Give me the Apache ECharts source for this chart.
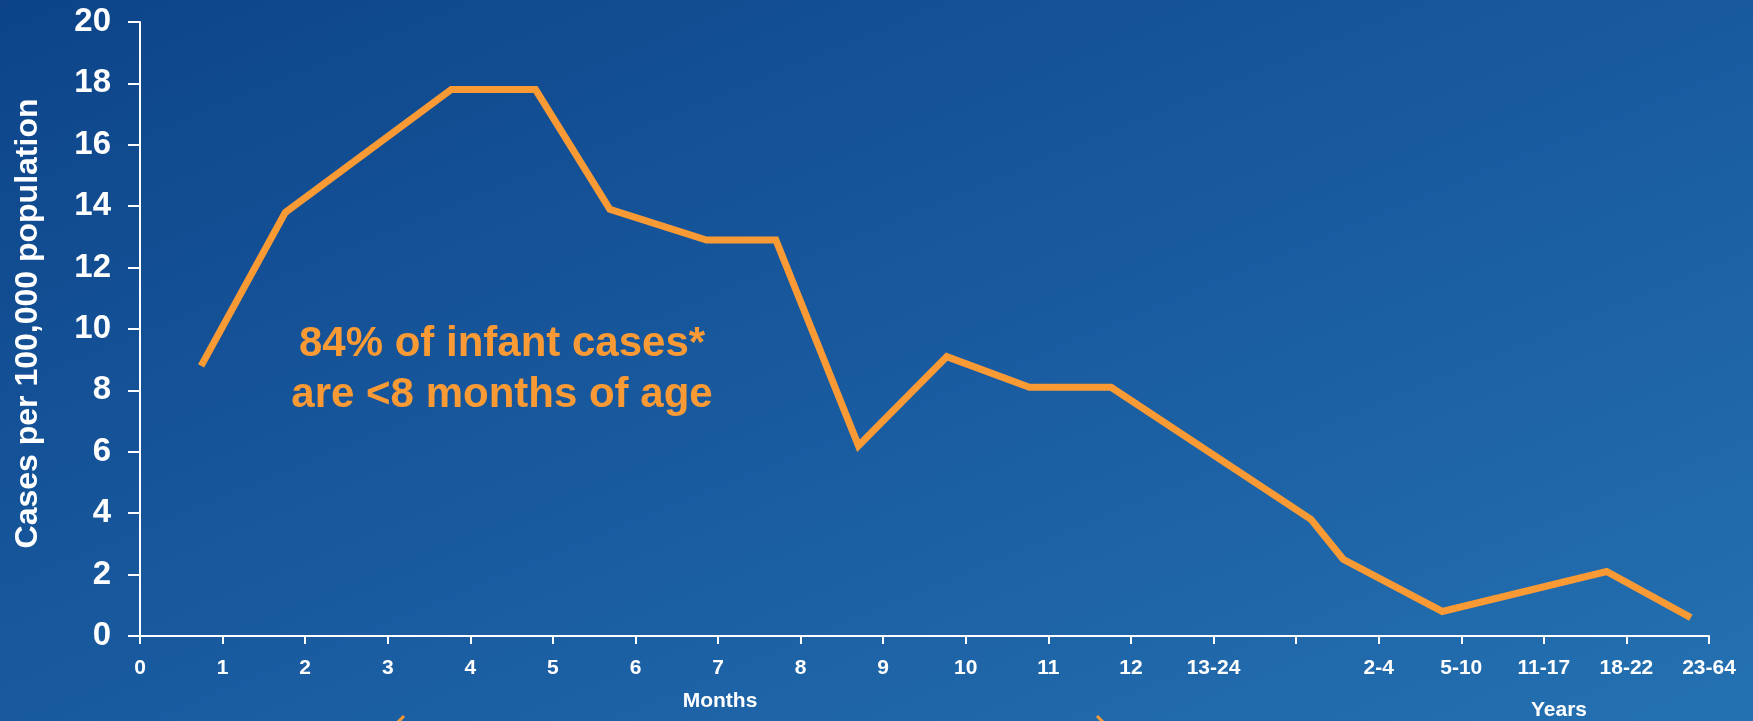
<!DOCTYPE html>
<html>
<head>
<meta charset="utf-8">
<title>Cases per 100,000 population by age</title>
<script src="https://cdn.jsdelivr.net/npm/echarts@6/dist/echarts.min.js"></script>
<style>
  html, body { margin: 0; padding: 0; }
  #chart { width: 1753px; height: 721px; }
</style>
</head>
<body>
<div id="chart"></div>
<script>
// Age-group tick labels along the x axis (one per tick, 0..19)
const tickLabels = ['0', '1', '2', '3', '4', '5', '6', '7', '8', '9', '10', '11', '12',
  '13-24', '', '2-4', '5-10', '11-17', '18-22', '23-64'];

// Position of each point along the age axis (in tick units)
const agePositions = [0.74, 1.76, 3.77, 4.79, 5.69, 6.86, 7.70, 8.70, 9.77, 10.77, 11.76,
  14.18, 14.57, 15.77, 17.76, 18.78];

// Incidence, cases per 100,000 population
const caseRates = [8.8, 13.8, 17.8, 17.8, 13.9, 12.9, 12.9, 6.2, 9.1, 8.1, 8.1,
  3.8, 2.5, 0.8, 2.1, 0.6];

const yTicks = { min: 0, max: 20, step: 2 };

const ORANGE = '#fa9a35';
const WHITE = '#ffffff';
const FONT = 'Liberation Sans, Arial, sans-serif';

const points = agePositions.map((x, i) => [x, caseRates[i]]);

const chart = echarts.init(document.getElementById('chart'), null, { renderer: 'canvas' });

chart.setOption({
  animation: false,
  // diagonal wash: darker top-left, lighter bottom-right
  backgroundColor: {
    type: 'linear', x: 0, y: 0, x2: 507, y2: 1233, global: true,
    colorStops: [
      { offset: 0, color: '#0d4489' },
      { offset: 0.5, color: '#195a9f' },
      { offset: 1, color: '#2471b1' }
    ]
  },
  grid: { left: 140, right: 44, top: 22, bottom: 85, containLabel: false },
  xAxis: {
    type: 'value',
    min: 0,
    max: tickLabels.length - 1,
    interval: 1,
    splitLine: { show: false },
    axisLine: { show: true, lineStyle: { color: WHITE, width: 2 } },
    axisTick: { show: true, length: 8, lineStyle: { color: WHITE, width: 2 } },
    axisLabel: {
      color: WHITE, fontFamily: FONT, fontWeight: 'bold', fontSize: 21, margin: 22,
      showMinLabel: true, showMaxLabel: true,
      formatter: v => tickLabels[Math.round(v)] ?? ''
    }
  },
  yAxis: {
    type: 'value',
    min: yTicks.min,
    max: yTicks.max,
    interval: yTicks.step,
    splitLine: { show: false },
    axisLine: { show: true, lineStyle: { color: WHITE, width: 2 } },
    axisTick: { show: true, length: 12, lineStyle: { color: WHITE, width: 2 } },
    axisLabel: { color: WHITE, fontFamily: FONT, fontWeight: 'bold', fontSize: 33, margin: 29 },
    name: 'Cases per 100,000 population',
    nameLocation: 'middle',
    nameRotate: 90,
    nameGap: 96,
    nameTextStyle: {
      color: WHITE, fontFamily: FONT, fontWeight: 'bold', fontSize: 32,
      padding: [0, 0, 0, 11]
    }
  },
  series: [{
    type: 'line',
    data: points,
    symbol: 'none',
    lineStyle: { color: ORANGE, width: 7, join: 'miter' }
  }],
  graphic: [
    {
      type: 'text', x: 502, y: 370,
      style: {
        text: '84% of infant cases*\nare <8 months of age',
        fill: ORANGE, font: 'bold 42px ' + FONT,
        textAlign: 'center', textVerticalAlign: 'middle', lineHeight: 51
      }
    },
    {
      type: 'text', x: 720, y: 701,
      style: { text: 'Months', fill: WHITE, font: 'bold 21px ' + FONT, textAlign: 'center', textVerticalAlign: 'middle' }
    },
    {
      type: 'text', x: 1559, y: 710,
      style: { text: 'Years', fill: WHITE, font: 'bold 21px ' + FONT, textAlign: 'center', textVerticalAlign: 'middle' }
    },
    {
      type: 'polyline',
      shape: { points: [[397, 723], [404, 716]] },
      style: { stroke: ORANGE, lineWidth: 3 }
    },
    {
      type: 'polyline',
      shape: { points: [[1097, 716], [1104, 723]] },
      style: { stroke: ORANGE, lineWidth: 3 }
    }
  ]
});
</script>
</body>
</html>
